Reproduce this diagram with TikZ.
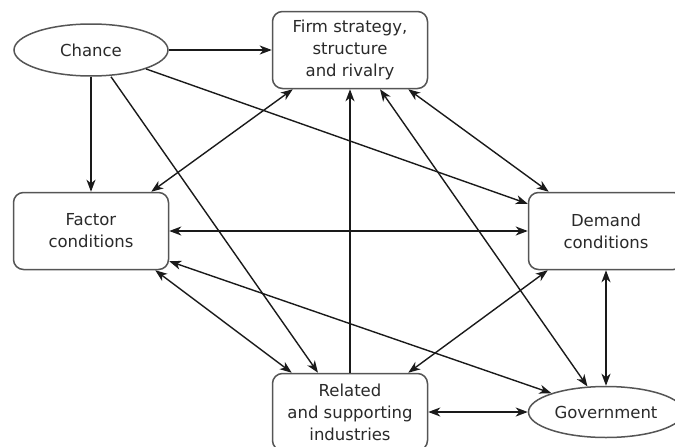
\documentclass[tikz,border=0pt]{standalone}
\usepackage{fontspec}
\setmainfont{DejaVu Sans}
\usepackage{tikz}
\usetikzlibrary{shapes.geometric, arrows.meta, positioning}
\definecolor{edgegray}{HTML}{555555}
\definecolor{textgray}{HTML}{2A2A2A}
\definecolor{linegray}{HTML}{1A1A1A}
\tikzset{
	stage/.style={
		rectangle, 
		rounded corners=10pt, 
		minimum width=155pt, 
		minimum height=77pt, 
		align=center, 
		draw=edgegray, 
		line width=1.5pt,
		fill=white,
		text=textgray,
		font=\fontsize{16.5}{22}\selectfont
	},
	event/.style={
		ellipse, 
		minimum width=154pt, 
		minimum height=52pt, 
		inner sep=0pt,
		align=center, 
		draw=edgegray, 
		line width=1.5pt,
		fill=white,
		text=textgray,
		font=\fontsize{16.5}{22}\selectfont
	},
	arrow/.style={line width=1.4pt, draw=linegray, -{Stealth[length=12pt,width=9pt,inset=3.5pt]}},
	darrow/.style={line width=1.4pt, draw=linegray, {Stealth[length=12pt,width=9pt,inset=3.5pt]}-{Stealth[length=12pt,width=9pt,inset=3.5pt]}}
}

\begin{document}
\begin{tikzpicture}[x=1pt, y=-1pt]
				\useasboundingbox (0,0) rectangle (675,447);
				\node (chance) [event] at (91,50) {Chance};
				\node (firm) [stage] at (350,50) {Firm strategy,\\structure\\and rivalry};
				\node (factor) [stage] at (91,231) {Factor\\conditions};
				\node (demand) [stage] at (606,231) {Demand\\conditions};
				\node (related) [stage] at (350,412) {Related\\and supporting\\industries};
				\node (gov) [event, minimum height=51pt, minimum width=155pt] at (606,412) {Government};
				
				% Chance
				\draw [arrow] (chance.east) -- (firm.west);
				\draw [arrow] (chance.south) -- (factor.north);
				\draw [arrow] ([xshift=20pt]chance.south) -- ([xshift=-32pt]related.north);
				\draw [arrow] (chance.-19) -- ([yshift=-12pt]demand.north west);
				
				% Factor conditions
				\draw [darrow] ([xshift=-18pt]factor.north east) -- ([xshift=21pt]firm.south west);
				\draw [darrow] (factor.east) -- (demand.west);
				\draw [darrow] ([xshift=-14pt]factor.south east) -- ([xshift=20pt]related.north west);
				\draw [darrow] ([yshift=9pt]factor.south east) -- (gov.161);
				
				% Firm strategy
				\draw [arrow] (related.north) -- (firm.south);
				\draw [darrow] ([xshift=-20pt]firm.south east) -- ([xshift=21pt]demand.north west);
				\draw [darrow] ([xshift=30pt]firm.south) -- (gov.126);
				
				% Demand, related, government
				\draw [darrow] (demand.south) -- (gov.north);
				\draw [darrow] ([xshift=20pt]demand.south west) -- ([xshift=-20pt]related.north east);
				\draw [darrow] (related.east) -- (gov.west);
			\end{tikzpicture}
\end{document}
